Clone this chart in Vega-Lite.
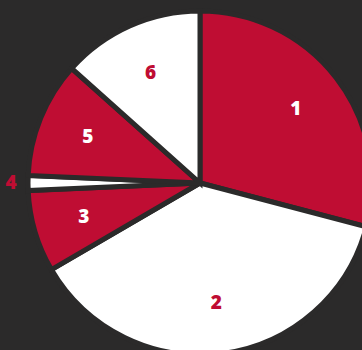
{
  "$schema": "https://vega.github.io/schema/vega-lite/v6.json",
  "width": 400,
  "height": 366,
  "padding": 0,
  "autosize": {"type": "none"},
  "background": "#2b2a2a",
  "config": {"view": {"stroke": null}},
  "data": {"values": [
    {"slice": 1, "value": 29.1},
    {"slice": 2, "value": 37.5},
    {"slice": 3, "value": 7.7},
    {"slice": 4, "value": 1.4},
    {"slice": 5, "value": 10.9},
    {"slice": 6, "value": 13.4}
  ]},
  "encoding": {
    "theta": {"field": "value", "type": "quantitative", "stack": true},
    "order": {"field": "slice", "type": "ordinal"}
  },
  "layer": [
    {
      "mark": {"type": "arc", "outerRadius": 172, "stroke": "#2b2a2a", "strokeWidth": 5},
      "encoding": {
        "color": {"field": "slice", "type": "ordinal", "legend": null,
          "scale": {"domain": [1,2,3,4,5,6], "range": ["#bf0d33","#ffffff","#bf0d33","#ffffff","#bf0d33","#ffffff"]}}
      }
    },
    {
      "mark": {"type": "text", "radius": 121, "font": "Open Sans", "fontWeight": 800, "fontSize": 19},
      "encoding": {
        "text": {"condition": {"test": "datum.slice == 4", "value": ""}, "field": "slice", "type": "ordinal"},
        "color": {"field": "slice", "type": "ordinal", "legend": null,
          "scale": {"domain": [1,2,3,4,5,6], "range": ["#ffffff","#bf0d33","#ffffff","#bf0d33","#ffffff","#bf0d33"]}}
      }
    },
    {
      "mark": {"type": "text", "radius": 189, "font": "Open Sans", "fontWeight": 800, "fontSize": 19, "color": "#bf0d33"},
      "encoding": {
        "text": {"condition": {"test": "datum.slice != 4", "value": ""}, "field": "slice", "type": "ordinal"}
      }
    }
  ],
  "resolve": {"scale": {"color": "independent"}}
}
